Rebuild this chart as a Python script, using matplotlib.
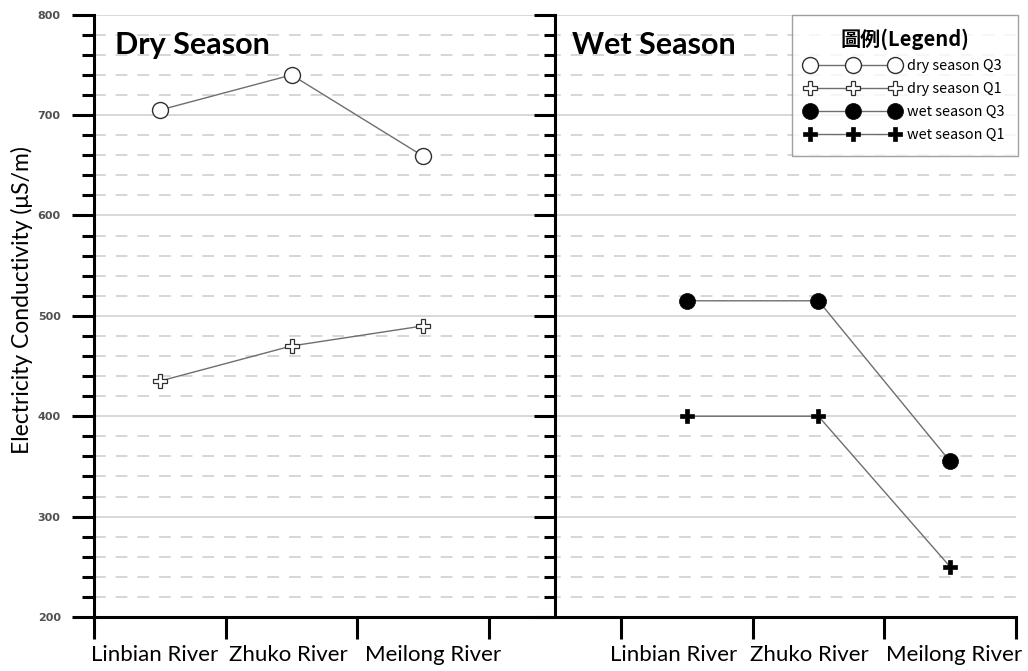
import numpy as np
import matplotlib
matplotlib.use("Agg")
import matplotlib.pyplot as plt
from matplotlib.ticker import MultipleLocator, FixedLocator, NullFormatter
from matplotlib.transforms import ScaledTranslation

# ---- data ----
rivers = ["Linbian River", "Zhuko River", "Meilong River"]
dry_q3 = [705, 740, 659]
dry_q1 = [435, 470, 490]
wet_q3 = [515, 515, 355]
wet_q1 = [400, 400, 250]
panel_titles = ["Dry Season", "Wet Season"]
legend_title = "圖例(Legend)"
series_labels = ["dry season Q3", "dry season Q1", "wet season Q3", "wet season Q1"]
ylabel = "Electricity Conductivity (μS/m)"

W, H = 1028, 671
fig = plt.figure(figsize=(W / 100, H / 100), dpi=100)

# axes geometry (pixels)
x0, x1 = 94, 1016
ytop, ybot = 14.7, 617
ax = fig.add_axes([x0 / W, 1 - ybot / H, (x1 - x0) / W, (ybot - ytop) / H])

n = len(rivers)
dry_x = np.arange(n)
wet_x = np.arange(n) + n + 1
ncat = 2 * n + 1

ax.set_xlim(-0.5, ncat - 0.5)
ax.set_ylim(200, 800)

line_kw = dict(color="#6e6e6e", lw=1.0, zorder=3)
ax.plot(dry_x, dry_q3, marker="o", ms=11.5, mfc="white", mec="#303030", mew=1.0,
        label=series_labels[0], **line_kw)
ax.plot(dry_x, dry_q1, marker="P", ms=10.5, mfc="white", mec="#303030", mew=0.9,
        label=series_labels[1], **line_kw)
ax.plot(wet_x, wet_q3, marker="o", ms=11.5, mfc="black", mec="black", mew=0.5,
        label=series_labels[2], **line_kw)
ax.plot(wet_x, wet_q1, marker="P", ms=10, mfc="black", mec="black", mew=0.5,
        label=series_labels[3], **line_kw)

# grid
ax.yaxis.set_major_locator(MultipleLocator(100))
ax.yaxis.set_minor_locator(MultipleLocator(20))
ax.grid(axis="y", which="major", color="#d6d6d6", lw=1.3, ls="-", zorder=0)
ax.grid(axis="y", which="minor", color="#d3d3d3", lw=1.3, ls=(0, (6.5, 5.5)), zorder=0)
ax.set_axisbelow(True)

# spines
for s in ["top", "right"]:
    ax.spines[s].set_visible(False)
for s in ["left", "bottom"]:
    ax.spines[s].set_linewidth(2.2)
    ax.spines[s].set_color("black")

# y ticks
ax.tick_params(axis="y", which="major", length=16, width=2.2, color="black",
               labelsize=8, labelcolor="#505050", pad=8)
ax.tick_params(axis="y", which="minor", length=9, width=2.2, color="black")
for lab in ax.get_yticklabels():
    lab.set_fontweight("bold")

# x ticks: boundaries as major (unlabelled), category centers as minor (labelled)
ax.xaxis.set_major_locator(FixedLocator(np.arange(-0.5, ncat, 1.0)))
ax.xaxis.set_major_formatter(NullFormatter())
ax.xaxis.set_minor_locator(FixedLocator(list(dry_x) + list(wet_x)))
ax.set_xticklabels(rivers + rivers, minor=True)
ax.tick_params(axis="x", which="major", length=16, width=2.2, color="black")
ax.tick_params(axis="x", which="minor", length=0, pad=20, labelsize=16)
label_shift_px = [-5, -3, 10, -13, -9, 4]
for lab, dx in zip(ax.get_xticklabels(minor=True), label_shift_px):
    lab.set_fontfamily("Lato")
    lab.set_transform(lab.get_transform() + ScaledTranslation(dx / 100, 0, fig.dpi_scale_trans))

# divider axis at the gap category
div_frac = (n + 0.5) / ncat
pos = ax.get_position()
ax2 = fig.add_axes([pos.x0 + div_frac * pos.width, pos.y0, pos.width * (1 - div_frac), pos.height])
ax2.set_ylim(ax.get_ylim())
ax2.patch.set_visible(False)
for s in ["top", "right", "bottom"]:
    ax2.spines[s].set_visible(False)
ax2.spines["left"].set_linewidth(2.2)
ax2.set_xticks([])
ax2.yaxis.set_major_locator(MultipleLocator(100))
ax2.yaxis.set_minor_locator(MultipleLocator(20))
ax2.tick_params(axis="y", which="major", length=15, width=2.2, labelleft=False)
ax2.tick_params(axis="y", which="minor", length=8, width=2.2)

# panel titles
ax.text(0.023, 0.95, panel_titles[0], transform=ax.transAxes, fontsize=22,
        fontweight="bold", family="Lato", va="center", ha="left")
ax.text(0.518, 0.95, panel_titles[1], transform=ax.transAxes, fontsize=22,
        fontweight="bold", family="Lato", va="center", ha="left")

# y label
ax.set_ylabel(ylabel, fontsize=16.5, family="Lato")
ax.yaxis.set_label_coords(-0.078, 0.526)
ax.yaxis.label.set_va("center")

# legend
leg = fig.legend(loc="upper right", bbox_to_anchor=(1018 / W, 1 - 15 / H),
                 bbox_transform=fig.transFigure, borderaxespad=0, numpoints=3,
                 handlelength=6.5, frameon=True, fancybox=False, title=legend_title,
                 prop={"family": ["Noto Sans CJK TC", "DejaVu Sans"], "size": 10.4},
                 labelspacing=0.62, handletextpad=0.5, borderpad=0.95)
leg.get_title().set_fontfamily(["Noto Sans CJK TC", "DejaVu Sans"])
leg.get_title().set_fontweight("bold")
leg.get_title().set_fontsize(14.5)
leg.get_frame().set_edgecolor("#8a8a8a")
leg.get_frame().set_linewidth(1.0)

fig.savefig("out.png", dpi=100, facecolor="white")
